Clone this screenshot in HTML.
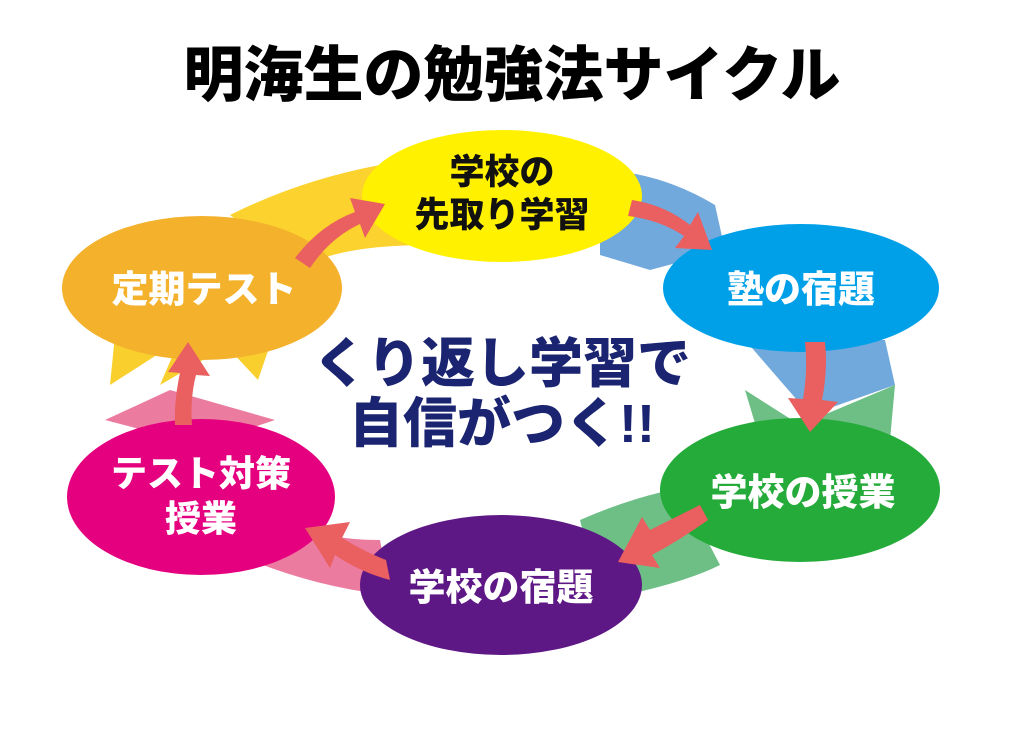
<!DOCTYPE html>
<html><head><meta charset="utf-8"><style>
body{margin:0;background:#fff;width:1024px;height:724px;overflow:hidden}
text{font-family:"Liberation Sans","Noto Sans CJK JP",sans-serif;font-weight:900}
</style></head><body>
<svg width="1024" height="724" viewBox="0 0 1024 724">
<!-- bands -->
<path d="M230 215 Q300 180 380 165 L430 245 Q340 245 300 268 Z" fill="#fcd22e"/>
<path d="M110 385 L115 335 L180 340 Z M160 385 L175 350 L220 350 Z M258 380 L270 345 L230 350 Z" fill="#f9cf2d"/>
<path d="M600 170 Q660 172 715 205 L725 250 L650 270 L600 255 Z" fill="#72a9dc"/>
<path d="M745 340 L885 340 L895 385 L810 415 Z" fill="#72a9dc"/>
<path d="M745 390 L800 425 L895 385 L890 440 L760 440 Z" fill="#6dbf85"/>
<path d="M580 520 Q630 498 680 488 L720 565 Q680 585 600 600 Z" fill="#6dbf85"/>
<path d="M105 420 L170 390 L275 420 L200 445 Z" fill="#ec7ba0"/>
<path d="M250 560 Q320 588 390 595 L380 540 Q320 540 290 520 Z" fill="#ec7ba0"/>
<!-- ellipses -->
<ellipse cx="202" cy="288" rx="140" ry="72" fill="#f4b22c"/>
<ellipse cx="502" cy="196" rx="140" ry="66" fill="#fff100"/>
<ellipse cx="801" cy="288" rx="138" ry="64" fill="#00a0e9"/>
<ellipse cx="800" cy="490" rx="140" ry="72" fill="#25ab3a"/>
<ellipse cx="501" cy="585" rx="141" ry="70" fill="#5e1885"/>
<ellipse cx="201" cy="497" rx="134" ry="78" fill="#e4007f"/>
<!-- arrows -->
<g fill="#ea5f5f">
<path d="M295 258 Q320 225 355 212 L350 198 L385 204 L365 238 L360 224 Q330 238 310 268 Z"/>
<path d="M632 200 Q665 205 690 225 L698 212 L712 250 L675 248 L684 236 Q660 220 628 216 Z"/>
<path d="M805 342 L825 342 Q828 370 822 400 L838 402 L810 432 L788 398 L803 399 Q808 370 805 342 Z"/>
<path d="M708 520 L700 505 Q670 520 650 530 L642 517 L618 562 L660 568 L652 555 Q680 540 708 520 Z"/>
<path d="M386 560 L390 580 Q360 572 335 555 L330 568 L305 528 L350 522 L342 538 Q365 552 386 560 Z"/>
<path d="M175 425 L192 425 Q190 398 196 375 L210 376 L188 342 L168 372 L180 373 Q174 400 175 425 Z"/>
</g>
<!-- text -->
<text x="512" y="96" font-size="60" text-anchor="middle" fill="#000">明海生の勉強法サイクル</text>
<text x="502" y="184" font-size="35" text-anchor="middle" fill="#111">学校の</text>
<text x="502" y="227" font-size="35" text-anchor="middle" fill="#111">先取り学習</text>
<text x="204" y="302" font-size="37" text-anchor="middle" fill="#fff">定期テスト</text>
<text x="801" y="302" font-size="37" text-anchor="middle" fill="#fff">塾の宿題</text>
<text x="803" y="505" font-size="37" text-anchor="middle" fill="#fff">学校の授業</text>
<text x="501" y="600" font-size="37" text-anchor="middle" fill="#fff">学校の宿題</text>
<text x="201" y="486" font-size="36" text-anchor="middle" fill="#fff">テスト対策</text>
<text x="201" y="531" font-size="36" text-anchor="middle" fill="#fff">授業</text>
<text x="502" y="382" font-size="54" text-anchor="middle" fill="#1b2470">くり返し学習で</text>
<text x="502" y="442" font-size="54" text-anchor="middle" fill="#1b2470">自信がつく!!</text>
</svg>
</body></html>
